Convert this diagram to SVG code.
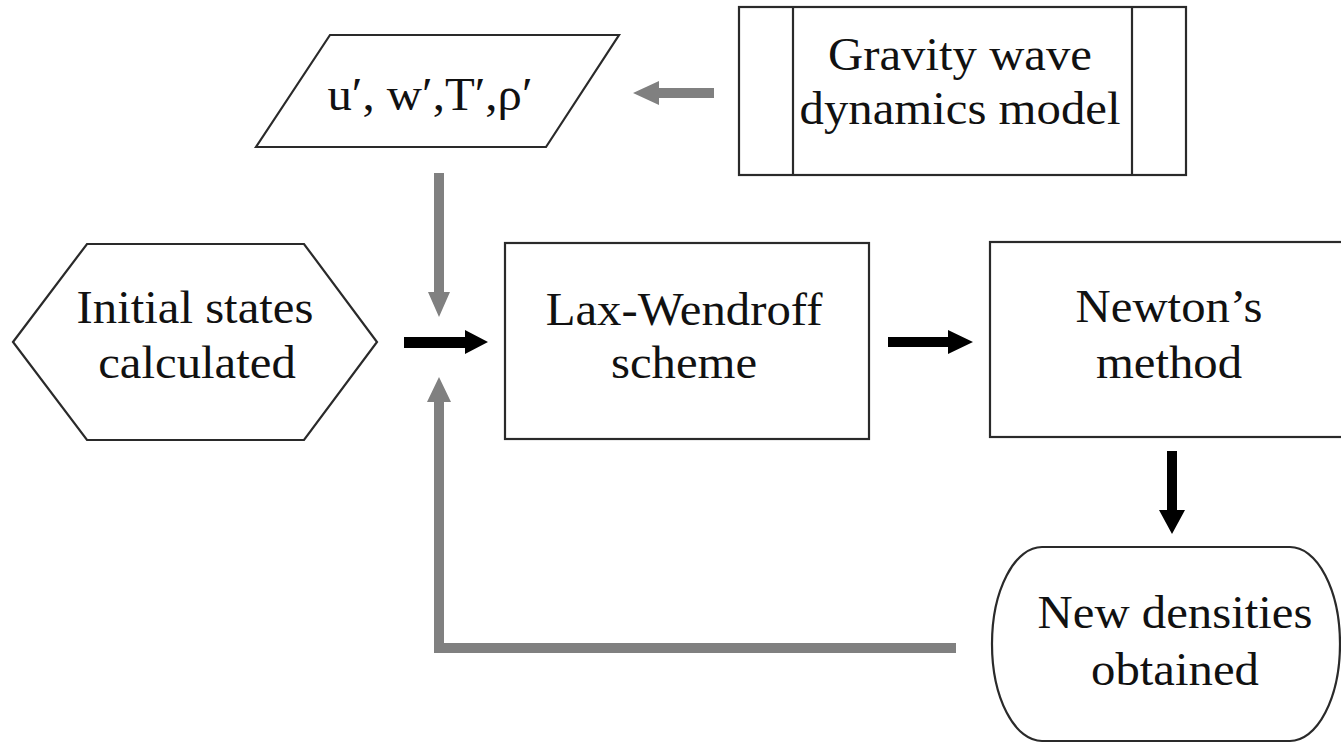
<svg xmlns="http://www.w3.org/2000/svg" width="1341" height="743" viewBox="0 0 1341 743">
<style>
.shape{fill:#fff;stroke:#2a2a2a;stroke-width:2.2}
.t{font-family:"Liberation Serif","Times New Roman",serif;font-size:46px;fill:#111;text-anchor:middle}
.gray{fill:#808080}
.blk{fill:#000}
</style>
<rect x="0" y="0" width="1341" height="743" fill="#fff"/>
<g id="connectors">
<polygon class="gray" points="714,88 659,88 659,81 633,93 659,105 659,98 714,98"/>
<polygon class="gray" points="434,173 444,173 444,292 450,292 439,317 428,292 434,292"/>
<polygon class="gray" points="439,377 451,402 444,402 444,643 956,643 956,653 434,653 434,402 427,402"/>
<polygon class="blk" points="404,337 465,337 465,330 488,342 465,354 465,348 404,348"/>
<polygon class="blk" points="888,337 948,337 948,330 973,342 948,354 948,347 888,347"/>
<polygon class="blk" points="1167,451 1177,451 1177,510 1185,510 1172,534 1159,510 1167,510"/>
</g>
<g id="node-perturbations">
<polygon class="shape" points="330,35 619,35 546,147 256,147"/>
<text class="t" transform="translate(430,110) scale(1.06,1)">u′, w′,T′,ρ′</text>
</g>
<g id="node-gravity">
<rect class="shape" x="739" y="7" width="447" height="168"/>
<line class="shape" x1="793" y1="7" x2="793" y2="175"/>
<line class="shape" x1="1132" y1="7" x2="1132" y2="175"/>
<text class="t" transform="translate(960,70) scale(1.06,1)">Gravity wave</text>
<text class="t" transform="translate(960,124) scale(1.06,1)">dynamics model</text>
</g>
<g id="node-initial">
<polygon class="shape" points="13,342 87,244 304,244 377,342 304,440 87,440"/>
<text class="t" transform="translate(195,323) scale(1.06,1)">Initial states</text>
<text class="t" transform="translate(197,378) scale(1.06,1)">calculated</text>
</g>
<g id="node-lax">
<rect class="shape" x="505" y="243" width="364" height="196"/>
<text class="t" transform="translate(684,325) scale(1.06,1)">Lax-Wendroff</text>
<text class="t" transform="translate(684,378) scale(1.06,1)">scheme</text>
</g>
<g id="node-newton">
<rect class="shape" x="990" y="242" width="360" height="195"/>
<text class="t" transform="translate(1169,322) scale(1.06,1)">Newton’s</text>
<text class="t" transform="translate(1169,378) scale(1.06,1)">method</text>
</g>
<g id="node-densities">
<path class="shape" d="M1042,547 H1290 A50,97 0 0 1 1290,741 H1042 A50,97 0 0 1 1042,547 Z"/>
<text class="t" transform="translate(1175,628) scale(1.06,1)">New densities</text>
<text class="t" transform="translate(1175,685) scale(1.06,1)">obtained</text>
</g>
</svg>
